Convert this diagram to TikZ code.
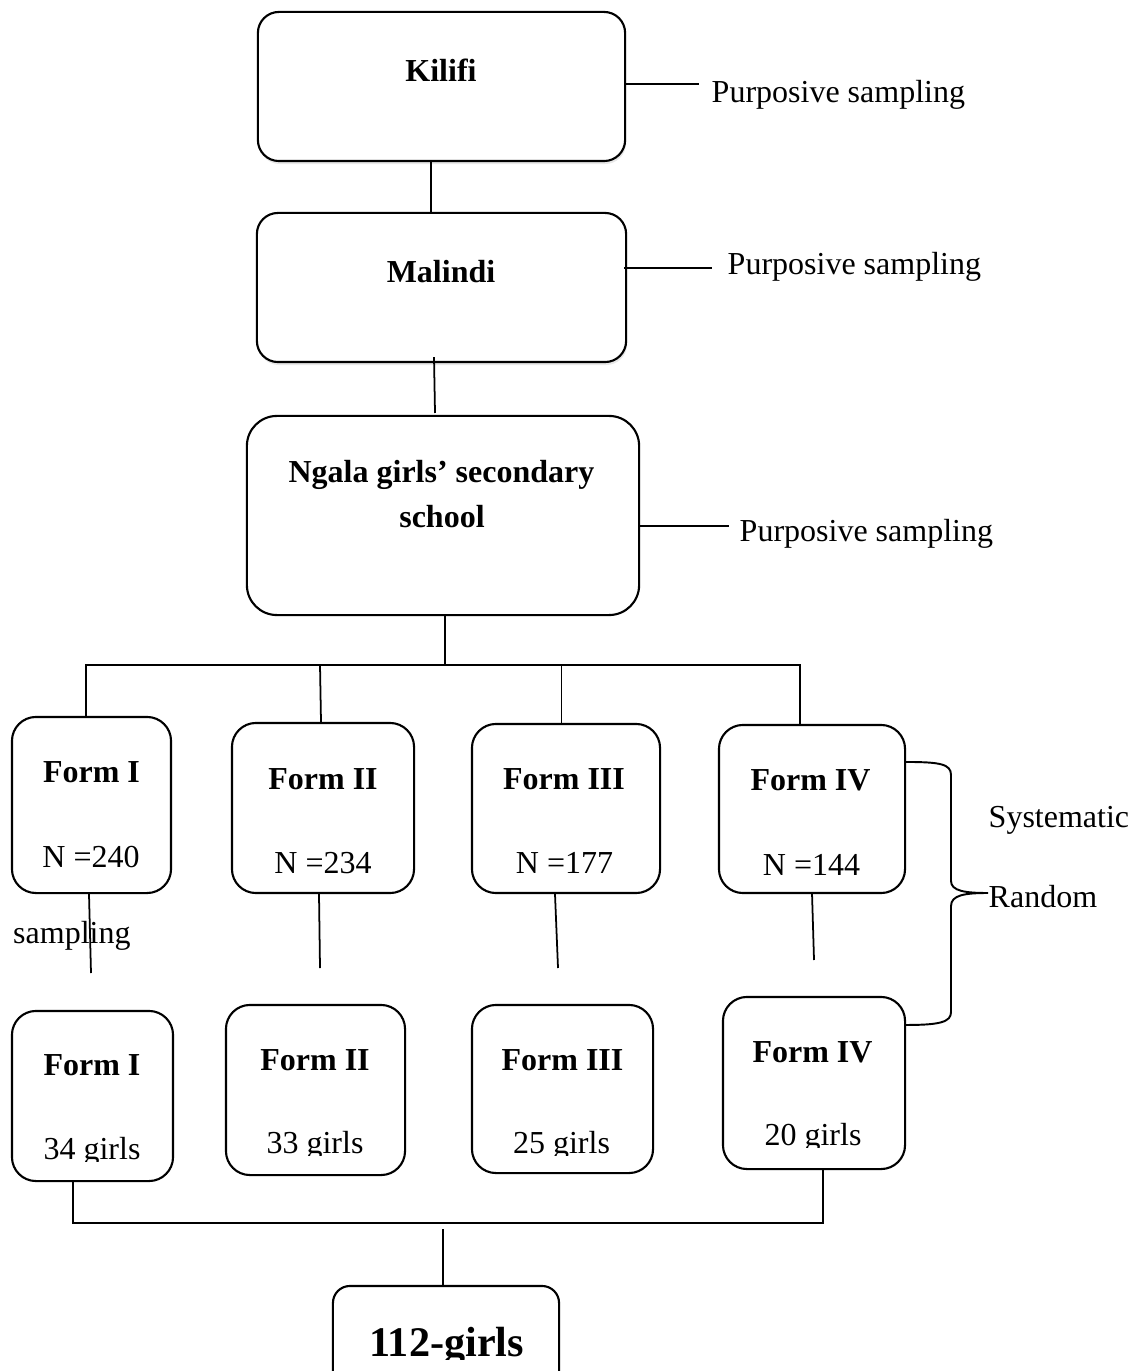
\documentclass[tikz,border=0pt]{standalone}
\usepackage{fontspec}
\setmainfont{Liberation Serif}
\usetikzlibrary{shadows}
\begin{document}
\begin{tikzpicture}[x=0.01cm,y=-0.01cm,
 box/.style={draw, line width=0.6pt, rounded corners=0.24cm, inner sep=0pt, fill=white},
 ln/.style={line width=0.5pt},
 txt/.style={inner sep=0pt, anchor=base, font=\fontsize{9.1}{11}\selectfont},
 btxt/.style={txt, font=\fontsize{9.1}{11}\selectfont\bfseries},
 ltxt/.style={txt, anchor=base west},
 shd/.style={drop shadow={opacity=0.18, shadow xshift=0.01cm, shadow yshift=-0.03cm}}
]
\clip (0,0) rectangle (1129,1371);
\fill[white] (0,0) rectangle (1129,1371);

% boxes
\node[box, shd, rounded corners=0.21cm, minimum width=3.67cm, minimum height=1.49cm] (kilifi) at (441.5,86.5) {};
\node[box, shd, rounded corners=0.21cm, minimum width=3.69cm, minimum height=1.49cm] (malindi) at (441.5,287.5) {};
\node[box, rounded corners=0.3cm, minimum width=3.92cm, minimum height=1.99cm] (ngala) at (443,515.5) {};

\node[box, minimum width=1.59cm, minimum height=1.76cm] (f1t) at (91.5,805) {};
\node[box, minimum width=1.82cm, minimum height=1.70cm] (f2t) at (323,808) {};
\node[box, minimum width=1.88cm, minimum height=1.69cm] (f3t) at (566,808.5) {};
\node[box, minimum width=1.86cm, minimum height=1.68cm] (f4t) at (812,809) {};

\node[box, minimum width=1.61cm, minimum height=1.70cm] (f1b) at (92.5,1096) {};
\node[box, minimum width=1.79cm, minimum height=1.70cm] (f2b) at (315.5,1090) {};
\node[box, minimum width=1.81cm, minimum height=1.68cm] (f3b) at (562.5,1089) {};
\node[box, minimum width=1.82cm, minimum height=1.72cm] (f4b) at (814,1083) {};

\node[box, rounded corners=0.17cm, minimum width=2.26cm, minimum height=1.30cm] (total) at (446,1351) {};

% texts
\node[btxt] (tk) at (441,82) {Kilifi};
\node[btxt] (tm) at (441,283) {Malindi};
\node[btxt] (tn1) at (441.5,483) {Ngala girls’ secondary};
\node[btxt] (tn2) at (442,528) {school};

\node[ltxt] (p1) at (711,103) {Purposive sampling};
\node[ltxt] (p2) at (727,275) {Purposive sampling};
\node[ltxt] (p3) at (739,542) {Purposive sampling};

\node[btxt] (t1a) at (91.5,782) {Form I};
\node[txt]  (t1b) at (91,867) {N =240};
\node[btxt] (t2a) at (323,789) {Form II};
\node[txt]  (t2b) at (323,873) {N =234};
\node[btxt] (t3a) at (564,789) {Form III};
\node[txt]  (t3b) at (564.5,873) {N =177};
\node[btxt] (t4a) at (810.5,790) {Form IV};
\node[txt]  (t4b) at (811.5,875) {N =144};

\node[ltxt] (samp) at (12.5,943) {sampling};
\node[ltxt] (syst) at (988,827) {Systematic};
\node[ltxt] (rand) at (988,907) {Random};

\node[btxt] (b1a) at (92,1075) {Form I};
\node[btxt] (b2a) at (315,1070) {Form II};
\node[btxt] (b3a) at (562.5,1070) {Form III};
\node[btxt] (b4a) at (812.5,1062) {Form IV};

\begin{scope}
 \clip (0,0) rectangle (1129,1161);
 \node[txt] (b1b) at (92,1159) {34 girls};
\end{scope}
\begin{scope}
 \clip (0,0) rectangle (1129,1155);
 \node[txt] (b2b) at (315,1153) {33 girls};
 \node[txt] (b3b) at (561.5,1153) {25 girls};
\end{scope}
\begin{scope}
 \clip (0,0) rectangle (1129,1147);
 \node[txt] (b4b) at (813,1145) {20 girls};
\end{scope}
\begin{scope}
 \clip (0,0) rectangle (1129,1359);
 \node[btxt, font=\fontsize{12}{14}\selectfont\bfseries] (tt) at (446.5,1356) {112-girls};
\end{scope}

% free-end coordinates
\coordinate (k1) at (699,84);
\coordinate (m1) at (712,268);
\coordinate (n1) at (729,526);
\coordinate (mn) at (435,413);
\coordinate (busT) at (445,665);
\coordinate (e1) at (91,973);
\coordinate (e2) at (320,968);
\coordinate (e3) at (558,968);
\coordinate (e4) at (814,960);
\coordinate (busB) at (443,1223);
\coordinate (busB2) at (443,1229);
\coordinate (tip) at (988,893);

% connectors
\draw[ln] ([xshift=-0.105cm]kilifi.south) -- ([xshift=-0.105cm]malindi.north);
\draw[ln] (kilifi.east |- k1) -- (k1);
\draw[ln] ([xshift=-0.03cm]malindi.east |- m1) -- (m1);
\draw[ln] (ngala.east |- n1) -- (n1);
\draw[ln] ([xshift=-0.075cm,yshift=0.06cm]malindi.south) -- (mn);

\draw[ln] (ngala.south -| busT) -- (busT);
\draw[ln] ([xshift=-0.055cm]f1t.north) |- ([xshift=-0.12cm]f4t.north |- busT) -- ([xshift=-0.12cm]f4t.north);
\draw[ln] ([xshift=-0.02cm]f2t.north) -- ([xshift=-0.03cm]f2t.north |- busT);
\draw[ln] ([xshift=-0.045cm]f3t.north) -- ([xshift=-0.045cm]f3t.north |- busT);

\draw[ln] ([xshift=-0.025cm]f1t.south) -- (e1);
\draw[ln] ([xshift=-0.04cm]f2t.south) -- (e2);
\draw[ln] ([xshift=-0.11cm]f3t.south) -- (e3);
\draw[ln] ([yshift=0.01cm]f4t.south) -- (e4);

\draw[ln] ([xshift=-0.195cm]f1b.south) |- ([xshift=0.09cm]f4b.south |- busB) -- ([xshift=0.09cm]f4b.south);
\draw[ln] (busB2) -- (total.north -| busB2);

% brace
\draw[ln, line width=0.55pt] ([yshift=0.47cm]f4t.east) .. controls (940,762) and (951,764) .. (951,775)
  -- (951,881) .. controls (951,891) and (965,893) .. (tip)
  .. controls (965,893) and (951,895) .. (951,906)
  -- (951,1012) .. controls (951,1022) and (940,1025) .. ([yshift=0.58cm]f4b.east);
\end{tikzpicture}
\end{document}
